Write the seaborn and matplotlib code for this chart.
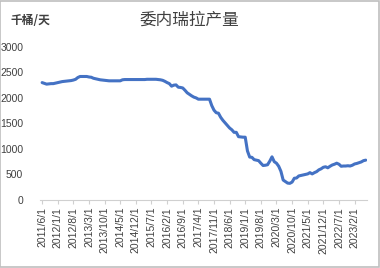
import matplotlib
matplotlib.use("Agg")
import matplotlib.pyplot as plt
import seaborn as sns
import pandas as pd
import numpy as np
from matplotlib.patches import Rectangle

# ---- data (monthly, 2011/6 .. 2023/7), thousand barrels per day ----
start_month = "2011-06-01"
production = [
    2300, 2285, 2270, 2275, 2280, 2280, 2290, 2300, 2310, 2320,
    2325, 2330, 2335, 2340, 2350, 2365, 2400, 2420, 2420, 2420,
    2420, 2410, 2405, 2385, 2375, 2365, 2355, 2350, 2345, 2340,
    2335, 2335, 2335, 2335, 2335, 2335, 2355, 2360, 2360, 2360,
    2360, 2360, 2360, 2360, 2360, 2360, 2360, 2365, 2365, 2365,
    2365, 2365, 2360, 2355, 2345, 2325, 2300, 2280, 2230, 2250,
    2255, 2210, 2205, 2195, 2150, 2100, 2070, 2040, 2015, 2000,
    1975, 1975, 1975, 1975, 1975, 1975, 1850, 1760, 1710, 1700,
    1620, 1560, 1510, 1460, 1410, 1375, 1325, 1325, 1240, 1235,
    1230, 1230, 960, 840, 835, 790, 780, 770, 720, 675,
    680, 690, 760, 845, 750, 720, 660, 560, 390, 360,
    330, 325, 350, 425, 430, 470, 480, 490, 500, 510,
    535, 510, 535, 555, 590, 610, 640, 650, 630, 660,
    685, 700, 720, 700, 660, 665, 665, 670, 665, 680,
    705, 715, 730, 745, 770, 780,
]
tick_step = 7
tick_labels = [
    "2011/6/1", "2012/1/1", "2012/8/1", "2013/3/1", "2013/10/1", "2014/5/1",
    "2014/12/1", "2015/7/1", "2016/2/1", "2016/9/1", "2017/4/1", "2017/11/1",
    "2018/6/1", "2019/1/1", "2019/8/1", "2020/3/1", "2020/10/1", "2021/5/1",
    "2021/12/1", "2022/7/1", "2023/2/1",
]
y_ticks = [0, 500, 1000, 1500, 2000, 2500, 3000]
title = "委内瑞拉产量"
unit = "千桶/天"

dates = pd.date_range(start_month, periods=len(production), freq="MS")
df = pd.DataFrame({"idx": np.arange(len(production)), "date": dates, "value": production})

sns.set_theme(style="white")
plt.rcParams["font.family"] = ["Noto Sans CJK SC", "DejaVu Sans"]

fig = plt.figure(figsize=(3.8, 2.68), dpi=100)
ax = fig.add_axes([0.105, 0.254, 0.861, 0.571])

sns.lineplot(data=df, x="idx", y="value", ax=ax, color="#4472C4", linewidth=2.2)

ax.set_xlim(-1.0, 145.6)
ax.set_ylim(0, 3000)
ax.set_yticks(y_ticks)
ax.set_yticklabels([str(v) for v in y_ticks], fontsize=7.5, color="#404040",
                   family=["Liberation Sans"])
ax.set_xticks(np.arange(len(tick_labels)) * tick_step)
ax.set_xticklabels(tick_labels, rotation=90, fontsize=7.5, color="#404040",
                   family=["Liberation Sans"])
ax.set_xlabel("")
ax.set_ylabel("")

for s in ["top", "right", "left"]:
    ax.spines[s].set_visible(False)
ax.spines["bottom"].set_color("#D0D0D0")
ax.spines["bottom"].set_linewidth(0.8)
ax.tick_params(axis="x", length=3, width=0.8, color="#D0D0D0", pad=2, bottom=True)
ax.tick_params(axis="y", length=0, pad=12)
ax.grid(False)

fig.text(0.497, 0.925, title, ha="center", va="center", fontsize=12,
         color="#404040")
fig.text(0.028, 0.925, unit, ha="left", va="center", fontsize=8.5,
         color="#404040", fontweight="bold")

fig.patches.append(Rectangle((0.001, 0.002), 0.996, 0.995, transform=fig.transFigure,
                             fill=False, edgecolor="#BFBFBF", linewidth=1.2))

fig.savefig("out.png", dpi=100, facecolor="white")
